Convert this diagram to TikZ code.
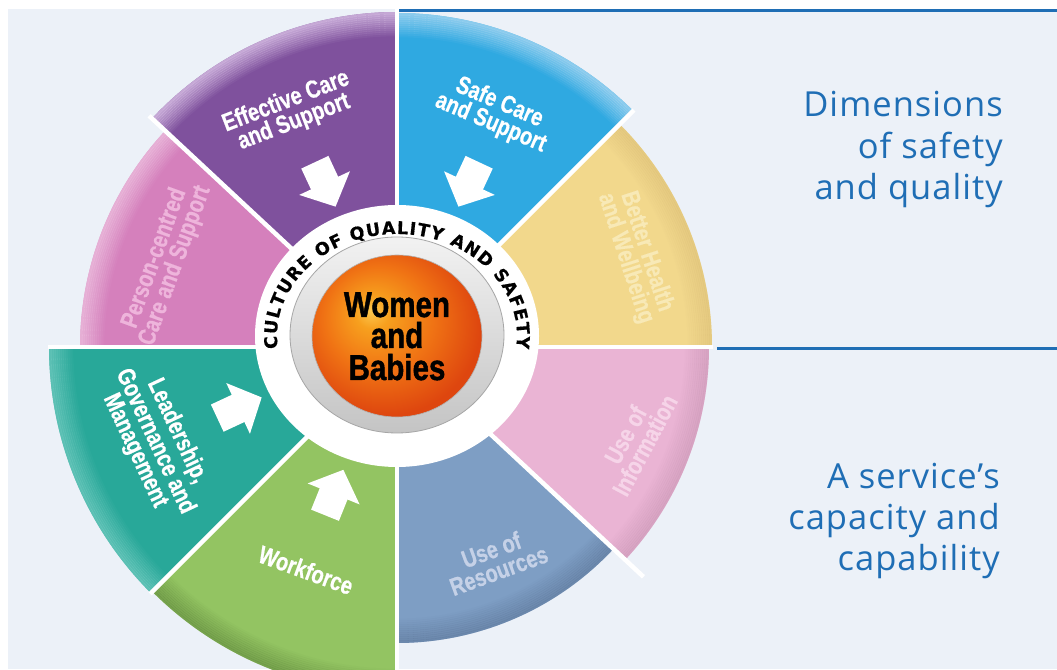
\documentclass[tikz,border=0pt]{standalone}
\usepackage{fontspec}
\usetikzlibrary{decorations.text}
\setmainfont{Liberation Sans}
\newfontfamily\segfont[FakeStretch=0.8, BoldFeatures={FakeBold=0.6}]{Liberation Sans}
\newfontfamily\midfont[FakeStretch=0.82, BoldFeatures={FakeBold=1.2}]{Liberation Sans}
\newfontfamily\sidefont[LetterSpace=3]{Open Sans}
\newfontfamily\ringfont[BoldFeatures={FakeBold=0.5}]{DejaVu Sans}
\definecolor{bgc}{RGB}{236,241,248}
\definecolor{linec}{RGB}{31,110,181}
\definecolor{cyel}{RGB}{242,216,140}
\definecolor{cblu}{RGB}{47,169,225}
\definecolor{cpur}{RGB}{127,81,157}
\definecolor{cpku}{RGB}{213,128,188}
\definecolor{ctea}{RGB}{40,168,153}
\definecolor{cgre}{RGB}{147,196,98}
\definecolor{cbgr}{RGB}{126,158,196}
\definecolor{cpkl}{RGB}{234,180,212}
\definecolor{hyel}{RGB}{215,185,115}
\definecolor{hblu}{RGB}{170,215,242}
\definecolor{hpur}{RGB}{215,190,228}
\definecolor{hpku}{RGB}{238,195,225}
\definecolor{htea}{RGB}{125,208,198}
\definecolor{hgre}{RGB}{95,135,60}
\definecolor{hbgr}{RGB}{90,115,150}
\definecolor{hpkl}{RGB}{198,148,178}
\definecolor{tyel}{RGB}{248,233,182}
\definecolor{tpku}{RGB}{238,180,219}
\definecolor{tbgr}{RGB}{197,209,231}
\definecolor{tpkl}{RGB}{246,212,232}
\definecolor{ballA}{RGB}{252,200,80}
\definecolor{ballB}{RGB}{247,160,30}
\definecolor{ballC}{RGB}{240,115,20}
\definecolor{ballD}{RGB}{222,70,15}
\definecolor{ringA}{RGB}{242,242,242}
\definecolor{ringB}{RGB}{196,196,196}
\pgfdeclareradialshading{ballorg}{\pgfpoint{-8bp}{8bp}}{color(0bp)=(ballA); color(5bp)=(ballB); color(16bp)=(ballC); color(28bp)=(ballD); color(50bp)=(ballD)}
\newcommand{\wheelseg}[6]{%
  \fill[#4] (0,0) -- (#1:#3) arc[start angle=#1,end angle=#2,radius=#3] -- cycle;
  \foreach \kk [evaluate=\kk as \opA using #6*(1-\kk/12), evaluate=\kk as \rA using #3-2*\kk-2.3, evaluate=\kk as \rB using #3-2*\kk] in {0,...,11}{
    \fill[#5, fill opacity=\opA] (#1:\rA) -- (#1:\rB) arc[start angle=#1,end angle=#2,radius=\rB] -- (#2:\rA) arc[start angle=#2,end angle=#1,radius=\rA] -- cycle;
  }%
}
\newcommand{\ringfmt}{\ringfont\bfseries\fontsize{17.5}{17.5}\selectfont}
\tikzset{
  seglabel/.style={align=center, font=\segfont\bfseries\fontsize{25}{22}\selectfont, inner sep=0pt},
  sidetext/.style={anchor=base east, text=linec, font=\sidefont\fontsize{34.5}{40}\selectfont, inner sep=0pt},
  centertext/.style={anchor=base, font=\midfont\bfseries\fontsize{36}{32}\selectfont, inner sep=0pt},
  sepline/.style={white, line width=4.5pt},
  inarrow/.pic={\fill[white] (25,0) -- (-1,28) -- (-1,15) -- (-24,15) -- (-24,-15) -- (-1,-15) -- (-1,-28) -- cycle;}
}
\begin{document}
\begin{tikzpicture}[x=1pt,y=1pt]
\useasboundingbox (0,0) rectangle (1057,669);
\clip (0,0) rectangle (1057,669);
\fill[white] (0,0) rectangle (1057,669);
\fill[bgc] (8,0) rectangle (1057,660);
\draw[linec, line width=3pt] (395,658.5) -- (1057,658.5);
\draw[linec, line width=3pt] (717,320.5) -- (1057,320.5);
\begin{scope}[shift={(397,322)}]
  \wheelseg{0}{45}{315}{cyel}{hyel}{0.45}
  \wheelseg{45}{90}{334}{cblu}{hblu}{0.75}
  \wheelseg{90}{137}{335}{cpur}{hpur}{0.8}
  \wheelseg{137}{180}{317}{cpku}{hpku}{0.7}
  \wheelseg{180}{225}{348}{ctea}{htea}{0.6}
  \wheelseg{225}{270}{346}{cgre}{hgre}{0.55}
  \wheelseg{270}{317}{296}{cbgr}{hbgr}{0.5}
  \wheelseg{317}{360}{312}{cpkl}{hpkl}{0.5}
  \coordinate (o) at (0,0);
  \draw[sepline] (o) -- (0:316);
  \draw[sepline] (o) -- (45:335);
  \draw[sepline] (o) -- (90:400);
  \draw[sepline] (o) -- (137:339);
  \draw[sepline] (o) -- (180:349);
  \draw[sepline] (o) -- (225:349);
  \draw[sepline] (o) -- (270:400);
  \draw[sepline] (o) -- (317:337);
\end{scope}
% arrows
\pic[rotate=-65] (apur) at (325,485) {inarrow};
\pic[rotate=-115] (ablu) at (469,485) {inarrow};
\pic[rotate=25] (atea) at (239,261) {inarrow};
\pic[rotate=68] (agre) at (334,176) {inarrow};
% segment labels
\node[seglabel, text=white, rotate=21] (lpur) at (290,557) {Effective Care\\and Support};
\node[seglabel, text=white, rotate=-23] (lblu) at (495,556) {Safe Care\\and Support};
\node[seglabel, text=tyel, rotate=-72] (lyel) at (636,414) {Better Health\\and Wellbeing};
\node[seglabel, text=tpku, rotate=70] (lpku) at (165,407) {Person-centred\\Care and Support};
\node[seglabel, text=white, rotate=-65] (ltea) at (156,228) {Leadership,\\Governance and\\Management};
\node[seglabel, text=white, rotate=-20] (lgre) at (306,99) {Workforce};
\node[seglabel, text=tbgr, rotate=20] (lbgr) at (495,109) {Use of\\Resources};
\node[seglabel, text=tpkl, rotate=62] (lpkl) at (635,229) {Use of\\Information};
% centre
\fill[white] (397,333) ellipse [x radius=142, y radius=131];
\shade[top color=ringA, bottom color=ringB] (397,334) ellipse [x radius=107, y radius=98];
\draw[black!35, line width=0.8pt] (397,334) ellipse [x radius=107, y radius=98];
\shade[shading=ballorg] (397,333) ellipse [x radius=85, y radius=81];
\draw[black!30, line width=0.6pt] (397,333) ellipse [x radius=85, y radius=81];
\path[decorate, decoration={text along path, text align={fit to path}, text={|\ringfmt|CULTURE OF QUALITY AND SAFETY}}] ([shift={(397,333)}]187:120 and 102) arc[start angle=187, end angle=-7, x radius=120, y radius=102];
\node[centertext] (cw) at (397,352) {Women};
\node[centertext] (ca) at (397,321) {and};
\node[centertext] (cb) at (397,289) {Babies};
% right side
\node[sidetext] (d1) at (1003,552) {Dimensions};
\node[sidetext] (d2) at (1003,510) {of safety};
\node[sidetext] (d3) at (1003,469) {and quality};
\node[sidetext] (s1) at (1000,180) {A service’s};
\node[sidetext] (s2) at (1000,139) {capacity and};
\node[sidetext] (s3) at (1000,98) {capability};
\end{tikzpicture}
\end{document}
